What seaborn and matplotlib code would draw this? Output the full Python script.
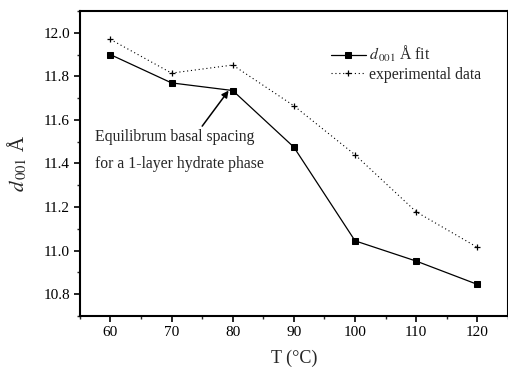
import matplotlib
matplotlib.use("Agg")
import matplotlib.pyplot as plt
import seaborn as sns
import pandas as pd
from matplotlib.ticker import MultipleLocator

temps = [60, 70, 80, 90, 100, 110, 120]
fit_vals = [11.90, 11.77, 11.735, 11.475, 11.045, 10.952, 10.845]
exp_vals = [11.97, 11.815, 11.852, 11.665, 11.44, 11.178, 11.015]

sns.set_theme(style="ticks")
plt.rcParams['font.family'] = ['Liberation Serif', 'DejaVu Serif']
plt.rcParams['mathtext.fontset'] = 'stix'

df_fit = pd.DataFrame({"T": temps, "d": fit_vals})
df_exp = pd.DataFrame({"T": temps, "d": exp_vals})

fig = plt.figure(figsize=(5.08, 3.67), dpi=100)
ax = fig.add_axes([0.157, 0.139, 0.843, 0.831])

sns.lineplot(data=df_fit, x="T", y="d", ax=ax, color="black", lw=0.9,
             marker="s", markersize=4.5, markeredgecolor="black",
             label=r"$d_{\,\mathit{001}}$ Å fit")
sns.lineplot(data=df_exp, x="T", y="d", ax=ax, color="black", lw=0.8,
             linestyle=(0, (1, 2.5)), marker="+", markersize=5,
             markeredgewidth=0.9, markeredgecolor="black",
             label="experimental data")

ax.set_xlim(55, 125)
ax.set_ylim(10.7, 12.1)
ax.xaxis.set_major_locator(MultipleLocator(10))
ax.xaxis.set_minor_locator(MultipleLocator(5))
ax.yaxis.set_major_locator(MultipleLocator(0.2))
ax.yaxis.set_minor_locator(MultipleLocator(0.1))
ax.yaxis.set_major_formatter(matplotlib.ticker.FormatStrFormatter('%.1f'))
ax.tick_params(axis='both', which='major', direction='out', length=4, width=1.2,
               labelsize=11, colors='black', pad=3)
ax.tick_params(axis='both', which='minor', direction='out', length=2.5, width=1.0)
for s in ax.spines.values():
    s.set_linewidth(1.5)
    s.set_color('black')

ax.set_xlabel("T (°C)", fontsize=13, labelpad=8)
ax.set_ylabel(r"$d_{\,\mathit{001}}$ Å", fontsize=15, labelpad=10)

leg = ax.legend(loc="upper right", bbox_to_anchor=(0.97, 0.937), frameon=False,
                fontsize=11.3, handlelength=2.2, handletextpad=0.2, labelspacing=0.15)

ax.annotate("Equilibrum basal spacing\nfor a 1-layer hydrate phase",
            xy=(79.6, 11.745), xytext=(57.5, 11.36),
            fontsize=11.3, ha="left", va="bottom", linespacing=1.9,
            arrowprops=dict(arrowstyle="-|>", color="black", lw=1.1,
                            shrinkA=0, shrinkB=2, mutation_scale=10,
                            relpos=(0.62, 1.0)),
            annotation_clip=False)
fig.savefig("out.png", dpi=100)
